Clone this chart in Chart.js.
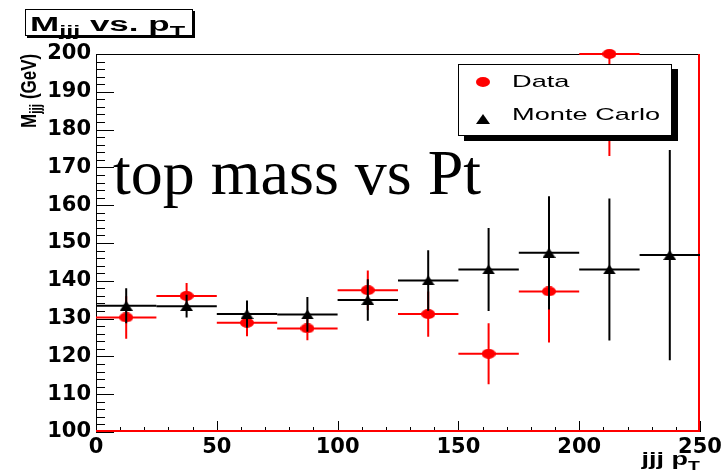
<!DOCTYPE html>
<html>
<head>
<meta charset="utf-8">
<script src="https://cdn.jsdelivr.net/npm/chart.js@4.4.0/dist/chart.umd.min.js"></script>
<style>
  html, body { margin: 0; padding: 0; background: #fff; }
  #wrap { position: relative; width: 726px; height: 472px; overflow: hidden; }
  #plot { position: absolute; left: 0; top: 0; }
  .sans { font-family: "Liberation Sans", Arial, sans-serif; font-weight: bold; color: #000; }
  .stretch { display: inline-block; white-space: nowrap; }
  sub { font-size: 0.72em; vertical-align: -0.35em; line-height: 0; }

  #histTitle { position: absolute; left: 25px; top: 9px; width: 166px; height: 25px;
    border: 1.5px solid #000; background: #fff; box-shadow: 2px 2px 0 #000; }
  #histTitle .stretch { position: absolute; left: 4px; top: 2px; font-size: 20px; line-height: 24px;
    transform: scaleX(1.75); transform-origin: left center; }

  #xTitle { position: absolute; right: 26px; top: 448px; font-size: 18px; line-height: 22px; }
  #xTitle .stretch { transform: scaleX(1.5); transform-origin: right center; }

  #overlay { position: absolute; left: 113px; top: 141px; font-family: "Liberation Serif", "Times New Roman", serif;
    font-size: 64px; line-height: 64px; white-space: nowrap; color: #000; }

  #legend { position: absolute; left: 458px; top: 64px; width: 212px; height: 70px;
    border: 1px solid #000; background: #fff; box-shadow: 6px 5px 0 #000; }
  .lgRow { position: absolute; left: 53px; height: 20px; line-height: 20px; font-family: "Liberation Sans", Arial, sans-serif;
    font-size: 17px; transform: scaleX(1.6); transform-origin: left center; white-space: nowrap; }
  .mkDot { position: absolute; left: 17px; top: 12px; width: 14px; height: 10px; border-radius: 50%; background: #ff0000; }
  .mkTri { position: absolute; left: 17px; top: 49px; width: 0; height: 0;
    border-left: 7px solid transparent; border-right: 7px solid transparent; border-bottom: 10px solid #000; }
</style>
</head>
<body>
<div id="wrap">
  <canvas id="plot" width="726" height="472"></canvas>
  <div id="histTitle" class="sans"><span class="stretch">M<sub>jjj</sub> vs. p<sub>T</sub></span></div>
  <div id="xTitle" class="sans"><span class="stretch">jjj p<sub>T</sub></span></div>
  <div id="legend">
    <div class="mkDot"></div>
    <div class="lgRow" style="top:7px">Data</div>
    <div class="mkTri"></div>
    <div class="lgRow" style="top:40px">Monte Carlo</div>
  </div>
  <div id="overlay">top mass vs Pt</div>
</div>
<script>
// bins of jjj pT (GeV), 25 GeV wide
const binCenters = [12.5, 37.5, 62.5, 87.5, 112.5, 137.5, 162.5, 187.5, 212.5, 237.5];
const binHalfWidth = 12.5;

// Data (red points) - no entry in the last bin
const dataMass = [130.3, 136.0, 128.9, 127.4, 137.5, 131.2, 120.7, 137.2, 200.0];
const dataErr = [5.6, 3.4, 3.6, 3.1, 5.2, 6.0, 8.1, 13.5, 27.0];

// Monte Carlo (black triangles)
const mcMass = [133.4, 133.3, 131.2, 131.1, 134.9, 140.1, 143.0, 147.4, 143.0, 146.8];
const mcErr = [4.6, 3.0, 3.6, 4.6, 5.5, 8.0, 11.0, 15.0, 18.8, 27.8];

// axes
const xRange = [0, 250];
const yRange = [100, 200];
const xTickStep = 50, xMinorStep = 10;
const yTickStep = 10, yMinorStep = 2;

function toPoints(vals, errs) {
  return vals.map((v, i) => ({ x: binCenters[i], y: v, xErr: binHalfWidth, yErr: errs[i] }));
}

function makeMarker(kind, w, h, color) {
  const c = document.createElement("canvas");
  c.width = w; c.height = h;
  const g = c.getContext("2d");
  g.fillStyle = color;
  g.beginPath();
  if (kind === "ellipse") {
    g.ellipse(w / 2, h / 2, w / 2, h / 2, 0, 0, Math.PI * 2);
  } else {
    g.moveTo(w / 2, 0); g.lineTo(w, h); g.lineTo(0, h); g.closePath();
  }
  g.fill();
  return c;
}

// frame + ROOT-style inward ticks
const framePlugin = {
  id: "frame",
  beforeDatasetsDraw(chart) {
    const { ctx, chartArea: a, scales: { x, y } } = chart;
    ctx.save();
    ctx.strokeStyle = "#000";
    ctx.lineWidth = 1;
    ctx.strokeRect(a.left + 0.5, a.top + 0.5, a.right - a.left - 1, a.bottom - a.top - 1);
    ctx.beginPath();
    for (let v = yRange[0]; v <= yRange[1]; v += yMinorStep) {
      const py = Math.round(y.getPixelForValue(v)) + 0.5;
      const len = v % yTickStep === 0 ? 18 : 9;
      ctx.moveTo(a.left, py); ctx.lineTo(a.left + len, py);
    }
    for (let v = xRange[0]; v <= xRange[1]; v += xMinorStep) {
      const px = Math.round(x.getPixelForValue(v)) + 0.5;
      const len = v % xTickStep === 0 ? 11 : 5;
      ctx.moveTo(px, a.bottom); ctx.lineTo(px, a.bottom - len);
    }
    ctx.stroke();
    ctx.strokeStyle = "#ff0000";
    ctx.lineWidth = 2;
    ctx.beginPath();
    ctx.moveTo(a.left, a.bottom - 1); ctx.lineTo(a.right - 1, a.bottom - 1); ctx.lineTo(a.right - 1, a.top);
    ctx.stroke();
    ctx.restore();
  },
  // rotated y title with subscript
  afterDraw(chart) {
    const ctx = chart.ctx;
    const big = 'bold 17px "Liberation Sans", Arial, sans-serif';
    const small = 'bold 12px "Liberation Sans", Arial, sans-serif';
    ctx.save();
    ctx.translate(36, 128);
    ctx.rotate(-Math.PI / 2);
    ctx.scale(1, 1.35);
    ctx.fillStyle = "#000";
    ctx.textBaseline = "alphabetic";
    ctx.textAlign = "left";
    ctx.font = big;
    ctx.fillText("M", 0, 0);
    let w = ctx.measureText("M").width;
    ctx.font = small;
    ctx.fillText("jjj", w, 4);
    w += ctx.measureText("jjj").width;
    ctx.font = big;
    ctx.fillText(" (GeV)", w, 0);
    ctx.restore();
  }
};

// horizontal (bin width) and vertical (stat) error bars
const errorBarPlugin = {
  id: "errorBars",
  beforeDatasetDraw(chart, args) {
    const ds = chart.data.datasets[args.index];
    const { ctx, chartArea: a, scales: { x, y } } = chart;
    ctx.save();
    ctx.beginPath();
    ctx.rect(a.left, a.top - 1, a.right - a.left, a.bottom - a.top + 1);
    ctx.clip();
    ctx.strokeStyle = ds.borderColor;
    ctx.lineWidth = 2;
    ds.data.forEach(p => {
      const px = x.getPixelForValue(p.x);
      const py = y.getPixelForValue(p.y);
      ctx.beginPath();
      ctx.moveTo(x.getPixelForValue(p.x - p.xErr), py);
      ctx.lineTo(x.getPixelForValue(p.x + p.xErr), py);
      ctx.moveTo(px, y.getPixelForValue(p.y - p.yErr));
      ctx.lineTo(px, y.getPixelForValue(p.y + p.yErr));
      ctx.stroke();
    });
    ctx.restore();
  }
};

const tickFont = { family: "DejaVu Sans", weight: "bold", size: 21 };

new Chart(document.getElementById("plot"), {
  type: "scatter",
  data: {
    datasets: [
      {
        label: "Data",
        data: toPoints(dataMass, dataErr),
        borderColor: "#ff0000",
        backgroundColor: "#ff0000",
        pointStyle: makeMarker("ellipse", 14, 10, "#ff0000"),
        pointRadius: 6,
        clip: false,
        order: 2
      },
      {
        label: "Monte Carlo",
        data: toPoints(mcMass, mcErr),
        borderColor: "#000000",
        backgroundColor: "#000000",
        pointStyle: makeMarker("triangle", 13, 10, "#000000"),
        pointRadius: 6,
        clip: false,
        order: 1
      }
    ]
  },
  options: {
    responsive: false,
    animation: false,
    layout: { padding: { top: 54, right: 26, left: 0, bottom: 0 } },
    plugins: { legend: { display: false }, tooltip: { enabled: false } },
    scales: {
      x: {
        type: "linear",
        min: xRange[0], max: xRange[1],
        grid: { display: false, drawTicks: false },
        border: { display: false },
        ticks: { stepSize: xTickStep, color: "#000", font: tickFont, padding: 3, maxRotation: 0 },
        afterFit(scale) { scale.height = 40; }
      },
      y: {
        type: "linear",
        min: yRange[0], max: yRange[1],
        grid: { display: false, drawTicks: false },
        border: { display: false },
        ticks: { stepSize: yTickStep, color: "#000", font: tickFont, padding: 5 },
        afterFit(scale) { scale.width = 96; }
      }
    }
  },
  plugins: [framePlugin, errorBarPlugin]
});
</script>
</body>
</html>
